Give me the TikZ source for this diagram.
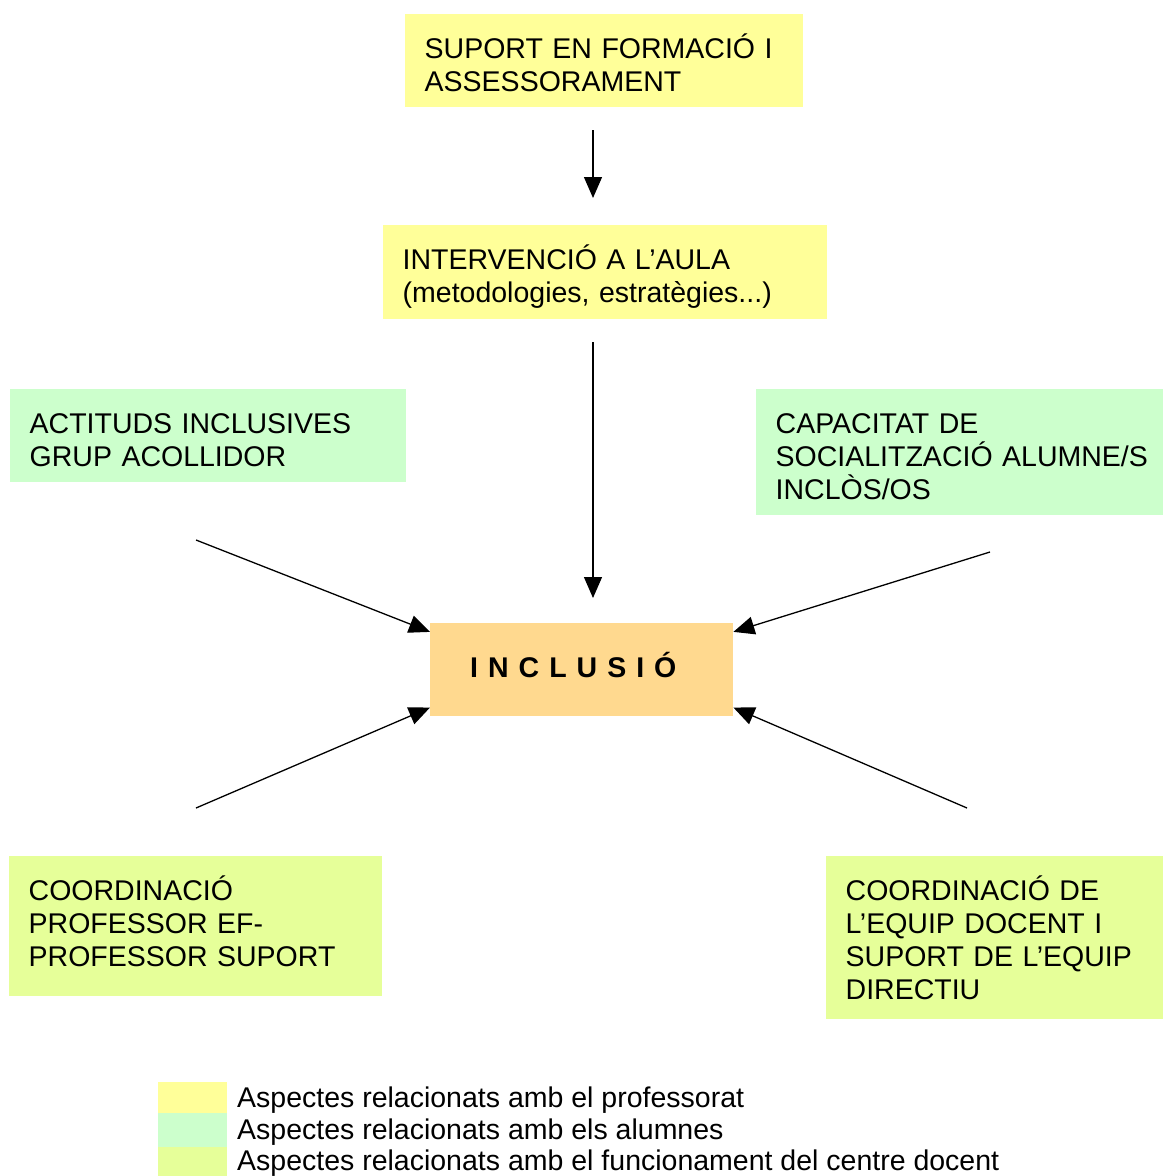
\documentclass[tikz,border=0pt]{standalone}
\usepackage{fontspec}
\setmainfont{Liberation Sans}
\usetikzlibrary{arrows.meta}
\definecolor{profyellow}{HTML}{FFFF99}
\definecolor{alumgreen}{HTML}{CCFFCC}
\definecolor{centrelime}{HTML}{E6FF99}
\definecolor{inclorange}{HTML}{FFD98F}
\newcommand{\boxtop}{\rule{0pt}{44pt}}
\newcommand{\boxbot}[1]{\rule[-#1pt]{0pt}{#1pt}}

\begin{document}
\begin{tikzpicture}[x=1pt,y=-1pt,
    box/.style={anchor=north west, inner xsep=19.5pt, inner ysep=0pt, align=left,
      font=\fontsize{28.5}{33}\selectfont},
    legtxt/.style={anchor=base west, inner sep=0pt, font=\fontsize{28.5}{33}\selectfont},
    arr/.style={line width=1.3pt, -{Triangle[length=21pt,width=18pt]}}]
  \useasboundingbox (0,0) rectangle (1164,1176);

  \node[box, fill=profyellow, text width=359pt] (form) at (405,14)
    {\boxtop SUPORT EN FORMACIÓ I\\ASSESSORAMENT\boxbot{16}};
  \node[box, fill=profyellow, text width=405pt] (aula) at (383,225)
    {\boxtop INTERVENCIÓ A L’AULA\\(metodologies,~estratègies...)\boxbot{17}};
  \node[box, fill=alumgreen, text width=357pt] (actit) at (10,389)
    {\boxtop ACTITUDS INCLUSIVES\\GRUP ACOLLIDOR\boxbot{16}};
  \node[box, fill=alumgreen, text width=368pt] (capac) at (756,389)
    {\boxtop CAPACITAT DE\\SOCIALITZACIÓ~ALUMNE/S\\INCLÒS/OS\boxbot{16}};
  \node[box, fill=centrelime, text width=334pt] (coordef) at (9,856)
    {\boxtop COORDINACIÓ\\PROFESSOR EF-\\PROFESSOR SUPORT\boxbot{30}};
  \node[box, fill=centrelime, text width=298pt] (coordeq) at (826,856)
    {\boxtop COORDINACIÓ DE\\L’EQUIP DOCENT I\\SUPORT DE L’EQUIP\\DIRECTIU\boxbot{20}};

  \node[anchor=north west, fill=inclorange, minimum height=93pt, inner xsep=40pt,
    inner ysep=0pt, text width=223pt, align=left, text height=21pt, text depth=6pt,
    font=\fontsize{28.5}{33}\selectfont\bfseries] (incl) at (430,623)
    {\spaceskip=10pt I N C L U S I Ó};

  \coordinate (a1s) at (593,130);
  \coordinate (a1e) at (593,198);
  \coordinate (a2s) at (593,342);
  \coordinate (a2e) at (593,598);
  \coordinate (a3s) at (196,540);
  \coordinate (a4s) at (990,552);
  \coordinate (a5s) at (196,808);
  \coordinate (a6s) at (967,808);

  \draw[arr] (a1s) -- (a1e);
  \draw[arr] (a2s) -- (a2e);
  \draw[arr] (a3s) -- (incl.166);
  \draw[arr] (a4s) -- (incl.14);
  \draw[arr] (a5s) -- (incl.194);
  \draw[arr] (a6s) -- (incl.346);

  \fill[profyellow] (158,1082) rectangle (227,1113);
  \fill[alumgreen] (158,1113) rectangle (227,1147);
  \fill[centrelime] (158,1147) rectangle (227,1176);
  \node[legtxt] (leg1) at (237,1107) {Aspectes relacionats amb el professorat};
  \node[legtxt] (leg2) at (237,1139) {Aspectes relacionats amb els alumnes};
  \node[legtxt] (leg3) at (237,1170) {Aspectes relacionats amb el funcionament del centre docent};
\end{tikzpicture}
\end{document}
